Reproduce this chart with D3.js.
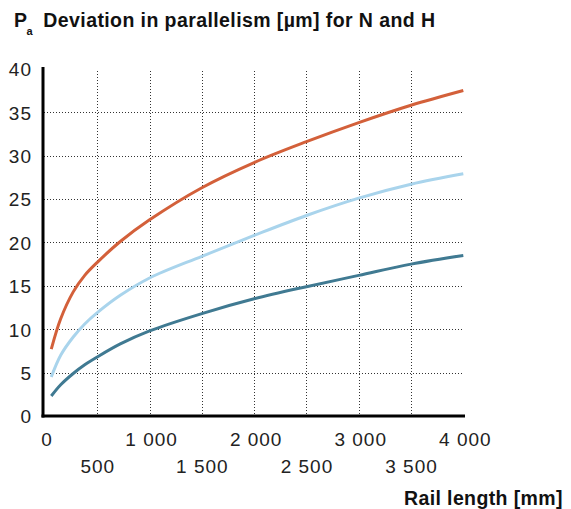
<!DOCTYPE html>
<html>
<head>
<meta charset="utf-8">
<script src="https://cdn.jsdelivr.net/npm/d3@7"></script>
<style>
  html, body { margin: 0; padding: 0; background: #fff; }
  svg { display: block; font-family: "Liberation Sans", Arial, Helvetica, sans-serif; }
</style>
</head>
<body>
<svg id="chart" width="571" height="509"></svg>
<script>
// ---- data ----
const railLength = [60, 150, 270, 380, 500, 720, 1000, 1500, 2000, 2500, 3000, 3500, 4000];
const seriesOrange    = [7.7, 11.2, 14.3, 16.2, 17.7, 20.1, 22.6, 26.3, 29.2, 31.6, 33.8, 35.8, 37.5];
const seriesLightBlue = [4.5, 7.0, 9.1, 10.6, 11.9, 13.9, 15.9, 18.4, 20.8, 23.1, 25.1, 26.7, 27.9];
const seriesTeal      = [2.3, 3.6, 4.9, 5.9, 6.8, 8.3, 9.8, 11.8, 13.5, 14.9, 16.2, 17.5, 18.5];
const yTicks = [0, 5, 10, 15, 20, 25, 30, 35, 40];
const yGrid = [5, 10, 15, 20, 25, 30, 35];
const xGrid = [500, 1000, 1500, 2000, 2500, 3000, 3500];
const xTicksTop = [0, 1000, 2000, 3000, 4000];
const xTicksBottom = [500, 1500, 2500, 3500];
const titleMain = "P";
const titleSub = "a";
const titleRest = "Deviation in parallelism [µm] for N and H";
const xTitle = "Rail length [mm]";

const series = [
  { values: seriesOrange, color: "#d3603a" },
  { values: seriesLightBlue, color: "#a9d4ec" },
  { values: seriesTeal, color: "#407a92" }
];

const fmtX = v => (v >= 1000 ? Math.floor(v / 1000) + " " + String(v % 1000).padStart(3, "0") : String(v));

const svg = d3.select("#chart");
const x = d3.scaleLinear().domain([0, 4000]).range([45, 463.3]);
const y = d3.scaleLinear().domain([0, 40]).range([416, 68.8]);

// fit a text element to a target width via letter-spacing
function fitWidth(sel, target) {
  const node = sel.node();
  const n = node.getNumberOfChars();
  const w = node.getComputedTextLength();
  if (n > 1) sel.attr("letter-spacing", ((target - w) / (n - 1)).toFixed(3));
}

// grid
const grid = svg.append("g").attr("stroke", "#333").attr("stroke-width", 1).attr("stroke-dasharray", "1,2");
grid.selectAll("line.h").data(yGrid).join("line")
  .attr("x1", 44).attr("x2", 463.5)
  .attr("y1", d => Math.round(y(d)) + 0.5).attr("y2", d => Math.round(y(d)) + 0.5);
grid.selectAll("line.v").data(xGrid).join("line")
  .attr("y1", 71).attr("y2", 415)
  .attr("x1", d => Math.round(x(d)) + 0.5).attr("x2", d => Math.round(x(d)) + 0.5);

// curves
const line = d3.line()
  .x((d, i) => x(railLength[i]))
  .y(d => y(d))
  .curve(d3.curveCatmullRom.alpha(0.5));
svg.append("g").selectAll("path").data(series).join("path")
  .attr("d", d => line(d.values))
  .attr("fill", "none")
  .attr("stroke", d => d.color)
  .attr("stroke-width", 3)
  .attr("stroke-linecap", "butt");

// axis lines
svg.append("line").attr("x1", 43).attr("x2", 43).attr("y1", 67).attr("y2", 417.5)
  .attr("stroke", "#000").attr("stroke-width", 3);
svg.append("line").attr("x1", 41.5).attr("x2", 465).attr("y1", 416).attr("y2", 416)
  .attr("stroke", "#000").attr("stroke-width", 3);

const tickFont = 19;
const tickSpacing = 1;

// y axis labels
const yAxis = d3.axisLeft(y).tickValues(yTicks).tickSize(0).tickPadding(0).tickFormat(d => String(d));
const gy = svg.append("g").attr("transform", "translate(32,0)").call(yAxis);
gy.select(".domain").remove();
gy.selectAll("text").attr("font-size", tickFont).attr("fill", "#222")
  .attr("letter-spacing", tickSpacing)
  .attr("font-family", "'Liberation Sans', Arial, sans-serif").attr("dy", "0.36em");

// x axis labels (two staggered rows)
const xAxisTop = d3.axisBottom(x).tickValues(xTicksTop).tickSize(0).tickPadding(0).tickFormat(fmtX);
const gxt = svg.append("g").attr("transform", "translate(1.5,0)").call(xAxisTop);
gxt.select(".domain").remove();
gxt.selectAll("text").attr("font-size", tickFont).attr("fill", "#222")
  .attr("letter-spacing", tickSpacing)
  .attr("font-family", "'Liberation Sans', Arial, sans-serif")
  .attr("y", 445.7).attr("dy", 0);

const xAxisBottom = d3.axisBottom(x).tickValues(xTicksBottom).tickSize(0).tickPadding(0).tickFormat(fmtX);
const gxb = svg.append("g").call(xAxisBottom);
gxb.select(".domain").remove();
gxb.selectAll("text").attr("font-size", tickFont).attr("fill", "#222")
  .attr("letter-spacing", tickSpacing)
  .attr("font-family", "'Liberation Sans', Arial, sans-serif")
  .attr("y", 472.7).attr("dy", 0);

// title
svg.append("text").attr("x", 14).attr("y", 27.3)
  .attr("font-weight", "bold").attr("font-size", 19.5).attr("fill", "#111").text(titleMain);
svg.append("text").attr("x", 26.5).attr("y", 34.7)
  .attr("font-weight", "bold").attr("font-size", 11).attr("fill", "#111").text(titleSub);
const tRest = svg.append("text").attr("x", 43.3).attr("y", 27.3)
  .attr("font-weight", "bold").attr("font-size", 19.5).attr("fill", "#111").text(titleRest);
fitWidth(tRest, 391.7);

// x axis title
const xt = svg.append("text").attr("x", 404).attr("y", 505)
  .attr("font-weight", "bold").attr("font-size", 19.5).attr("fill", "#111").text(xTitle);
fitWidth(xt, 158.5);
</script>
</body>
</html>
